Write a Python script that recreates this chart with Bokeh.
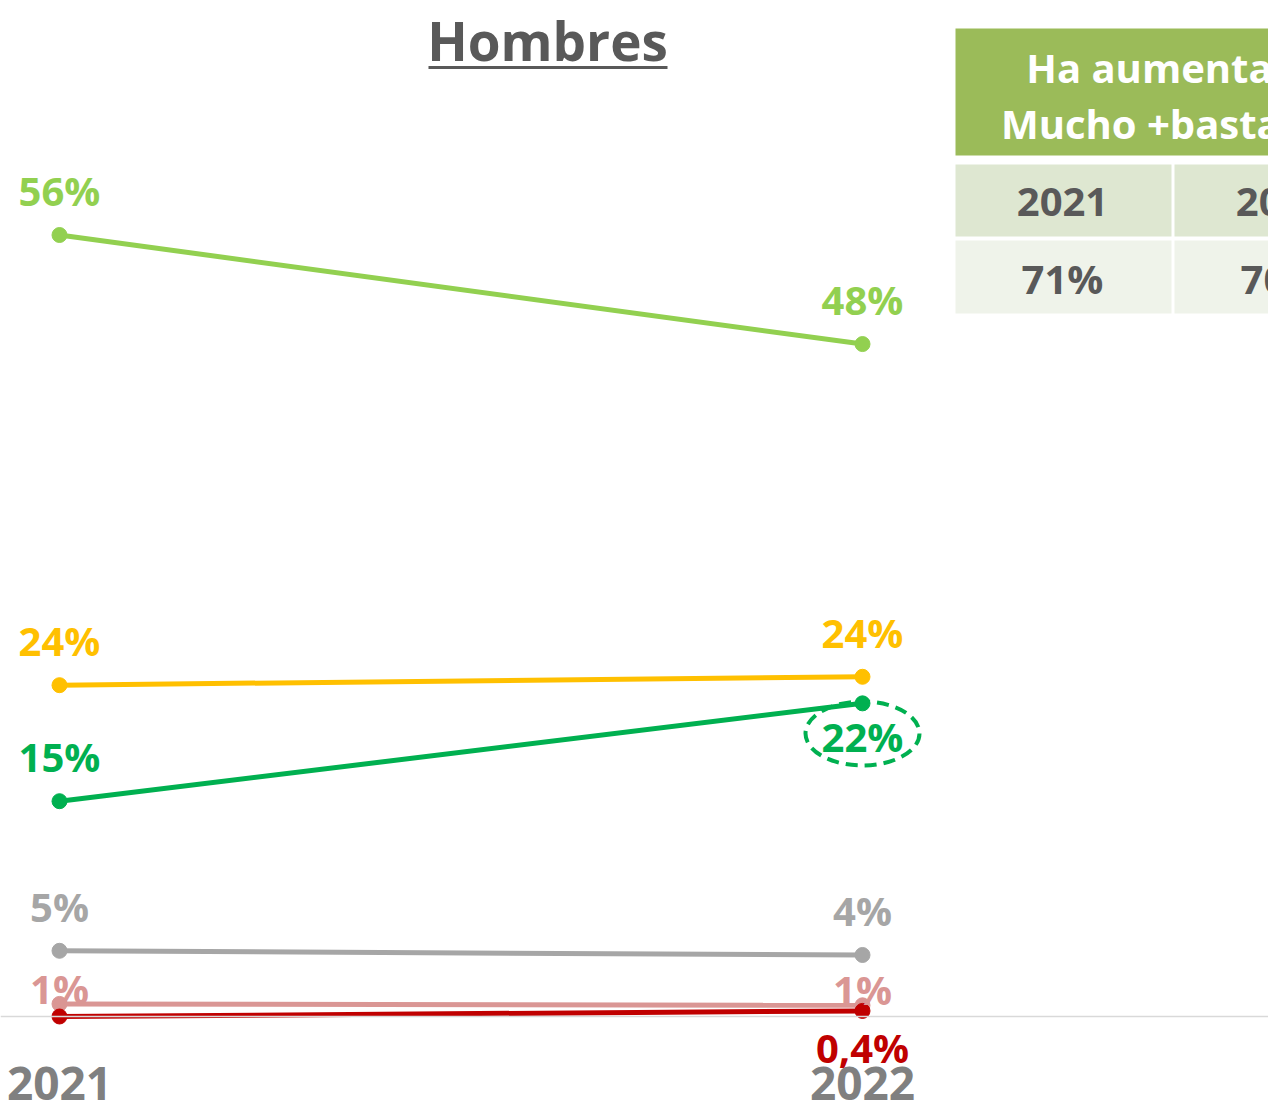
from bokeh.plotting import figure
from bokeh.models import Span, Range1d
from bokeh.core.properties import value
from bokeh.embed import file_html
from bokeh.resources import INLINE

# ---------------- data ----------------
years = [2021, 2022]
year_labels = ["2021", "2022"]

bastante = [55.9, 48.1]
bastante_labels = ["56%", "48%"]
ni_ni = [23.7, 24.3]
ni_ni_labels = ["24%", "24%"]
mucho = [15.4, 22.4]
mucho_labels = ["15%", "22%"]
poco = [4.7, 4.4]
poco_labels = ["5%", "4%"]
nada = [0.9, 0.8]
nada_labels = ["1%", "1%"]
ns_nc = [0.0, 0.4]
ns_nc_labels = ["", "0,4%"]

title_text = "Hombres"
table_header = ["Ha aumentado", "Mucho +bastante"]
table_years = ["2021", "2022"]
table_values = ["71%", "70%"]

# ---------------- layout helpers (picture pixel -> data) ----------------
W, H = 1268, 1113
PX_PER_YEAR = 803.0
PX_PER_PCT = 13.98
X0_PAGE = 59.0    # picture x of 2021
Y0_PAGE = 1016.0  # picture y of 0%


def fx(px):
    return years[0] + (px - X0_PAGE) / PX_PER_YEAR


def fy(py):
    return (Y0_PAGE - py) / PX_PER_PCT


FONT = value("Open Sans")

p = figure(width=W, height=H, output_backend="svg", toolbar_location=None,
           x_range=Range1d(fx(0), fx(W)), y_range=Range1d(fy(H), fy(0)),
           min_border=0, min_border_left=0, min_border_right=0,
           min_border_top=0, min_border_bottom=0)
p.xaxis.visible = False
p.yaxis.visible = False
p.grid.visible = False
p.outline_line_color = None
p.background_fill_color = "white"
p.border_fill_color = "white"

# baseline
p.add_layout(Span(location=0, dimension="width", line_color="#D9D9D9", line_width=1.5))

series = [
    (bastante, bastante_labels, "#92D050", [-45, -45]),
    (ni_ni, ni_ni_labels, "#FFC000", [-45, -44]),
    (mucho, mucho_labels, "#00B050", [-45, 33]),
    (poco, poco_labels, "#A6A6A6", [-44, -44]),
    (nada, nada_labels, "#DA9694", [-15, -16]),
    (ns_nc, ns_nc_labels, "#C00000", [0, 37]),
]

for vals, labs, col, offs in series:
    p.line(years, vals, line_color=col, line_width=5)
    p.scatter(years, vals, size=15, fill_color=col, line_color=col)

for vals, labs, col, offs in series:
    for i in range(2):
        if labs[i]:
            p.text(x=[years[i]], y=[vals[i]], text=[labs[i]], y_offset=offs[i],
                   text_color=col, text_font=FONT, text_font_style="bold",
                   text_font_size="40px", text_align="center", text_baseline="middle")

# dashed ellipse around 22%
p.ellipse(x=[years[1]], y=[fy(733)], width=fx(861 + 57) - fx(861 - 57),
          height=fy(733 - 32) - fy(733 + 32), fill_color=None,
          line_color="#00B050", line_width=4, line_dash="12 7")

# year labels at bottom
p.text(x=years, y=[fy(1083)] * 2, text=year_labels, text_color="#808080",
       text_font=FONT, text_font_style="bold", text_font_size="46px",
       text_align="center", text_baseline="middle")

# title with underline
p.text(x=[fx(547)], y=[fy(40)], text=[title_text], text_color="#595959",
       text_font=FONT, text_font_style="bold", text_font_size="53px",
       text_align="center", text_baseline="middle")
p.segment(x0=[fx(428)], y0=[fy(67)], x1=[fx(667)], y1=[fy(67)],
          line_color="#595959", line_width=3)

# table
p.quad(left=[fx(955)], right=[fx(1400)], top=[fy(28)], bottom=[fy(155)],
       fill_color="#9BBB59", line_color=None)
p.quad(left=[fx(955), fx(1174)], right=[fx(1171), fx(1400)],
       top=[fy(164)] * 2, bottom=[fy(236)] * 2, fill_color="#DEE7D1", line_color=None)
p.quad(left=[fx(955), fx(1174)], right=[fx(1171), fx(1400)],
       top=[fy(240)] * 2, bottom=[fy(313)] * 2, fill_color="#EFF3EA", line_color=None)
p.text(x=[fx(1174)] * 2, y=[fy(67), fy(123)], text=table_header, text_color="white",
       text_font=FONT, text_font_style="bold", text_font_size="40px",
       text_align="center", text_baseline="middle")
p.text(x=[fx(1062), fx(1281)], y=[fy(201)] * 2, text=table_years, text_color="#595959",
       text_font=FONT, text_font_style="bold", text_font_size="40px",
       text_align="center", text_baseline="middle")
p.text(x=[fx(1062), fx(1281)], y=[fy(278)] * 2, text=table_values, text_color="#595959",
       text_font=FONT, text_font_style="bold", text_font_size="40px",
       text_align="center", text_baseline="middle")

open("out.html", "w").write(file_html(p, INLINE))
